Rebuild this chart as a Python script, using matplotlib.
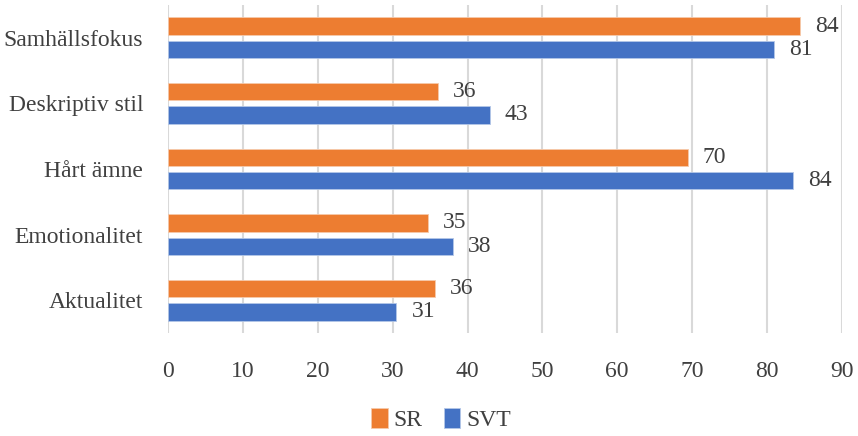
import matplotlib
matplotlib.use('Agg')
import matplotlib.pyplot as plt
import numpy as np

categories = ['Samhällsfokus', 'Deskriptiv stil', 'Hårt ämne', 'Emotionalitet', 'Aktualitet']
sr_values = [84.4, 36.1, 69.4, 34.7, 35.6]
svt_values = [81.0, 43.0, 83.5, 38.0, 30.5]
sr_labels = ['84', '36', '70', '35', '36']
svt_labels = ['81', '43', '84', '38', '31']
x_ticks = [0, 10, 20, 30, 40, 50, 60, 70, 80, 90]

plt.rcParams['font.family'] = ['Liberation Serif', 'DejaVu Serif']
text_color = '#404040'
sr_color = '#ED7D31'
svt_color = '#4472C4'
fs = 17

fig = plt.figure(figsize=(8.58, 4.36), dpi=100)
ax = fig.add_axes([0.196, 0.236, 0.785, 0.753])

y = np.arange(len(categories))
h = 0.265
off = 0.177

ax.barh(y - off, sr_values, height=h, color=sr_color, label='SR', edgecolor='#f5c9ab', linewidth=0.6, zorder=3)
ax.barh(y + off, svt_values, height=h, color=svt_color, label='SVT', edgecolor='#b4c7e7', linewidth=0.6, zorder=3)

# värdeetiketter
for i in range(len(categories)):
    ax.annotate(sr_labels[i], (sr_values[i], y[i] - off), xytext=(15, 0), textcoords='offset pixels',
                va='center', ha='left', fontsize=fs, color=text_color)
    ax.annotate(svt_labels[i], (svt_values[i], y[i] + off), xytext=(15, 0), textcoords='offset pixels',
                va='center', ha='left', fontsize=fs, color=text_color)

ax.set_xlim(0, 90)
ax.set_ylim(len(categories) - 0.5, -0.5)
ax.set_xticks(x_ticks)
ax.set_yticks(y)
ax.set_yticklabels(categories)
ax.tick_params(axis='both', length=0, labelsize=fs, colors=text_color)
ax.tick_params(axis='y', pad=18)
ax.tick_params(axis='x', pad=20)
ax.grid(axis='x', color='#d9d9d9', linewidth=1.5, zorder=0)
for s in ax.spines.values():
    s.set_visible(False)

fig.legend(loc='lower center', bbox_to_anchor=(0.514, -0.038), ncol=2, frameon=False,
           fontsize=fs, handlelength=0.7, handleheight=0.9, handletextpad=0.25,
           columnspacing=0.9, labelcolor=text_color)

fig.savefig('out.png', dpi=100)
